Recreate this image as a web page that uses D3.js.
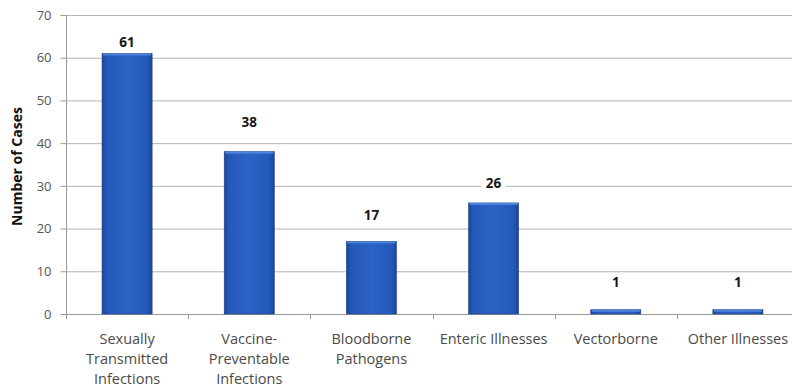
<!DOCTYPE html>
<html>
<head>
<meta charset="utf-8">
<script src="https://cdn.jsdelivr.net/npm/d3@7"></script>
<style>
  html, body { margin: 0; padding: 0; background: #fff; }
  svg { display: block; }
</style>
</head>
<body>
<svg id="chart" width="792" height="387"></svg>
<script>
// Cases by illness group
const categories = [
  ["Sexually", "Transmitted", "Infections"],
  ["Vaccine-", "Preventable", "Infections"],
  ["Bloodborne", "Pathogens"],
  ["Enteric Illnesses"],
  ["Vectorborne"],
  ["Other Illnesses"]
];
const values = [61, 38, 17, 26, 1, 1];
const yTicks = [0, 10, 20, 30, 40, 50, 60, 70];
const yTitle = "Number of Cases";

const svg = d3.select("#chart");
const plotLeft = 66, plotRight = 799, plotTop = 15, plotBottom = 314;
const font = "'Open Sans', 'Noto Sans', sans-serif";

const x = d3.scaleBand().domain(d3.range(values.length)).range([plotLeft, plotRight]).paddingInner(0.59).paddingOuter(0.295);
const y = d3.scaleLinear().domain([0, 70]).range([plotBottom, plotTop]);

// bar fill: darker edges, brighter centre
const defs = svg.append("defs");
const grad = defs.append("linearGradient").attr("id", "barFill").attr("x1", 0).attr("x2", 1).attr("y1", 0).attr("y2", 0);
[[0, "#1c4595"], [0.1, "#2459b8"], [0.5, "#2c63c6"], [0.9, "#2459b8"], [1, "#1c4595"]]
  .forEach(([o, c]) => grad.append("stop").attr("offset", o).attr("stop-color", c));

// gridlines
svg.append("g").selectAll("line").data(yTicks.filter(d => d > 0)).join("line")
  .attr("x1", plotLeft).attr("x2", plotRight)
  .attr("y1", d => y(d) + 0.5).attr("y2", d => y(d) + 0.5)
  .attr("stroke", "#b4b4b4").attr("stroke-width", 1);

// y axis
const yAxis = svg.append("g").attr("transform", `translate(${plotLeft + 0.5},0)`)
  .call(d3.axisLeft(y).tickValues(yTicks).tickSize(6).tickPadding(9));
yAxis.select(".domain").attr("stroke", "#9a9a9a").attr("d", `M0,${plotTop}V${plotBottom}`);
yAxis.selectAll(".tick line").attr("stroke", "#9a9a9a");
yAxis.selectAll("text").attr("font-family", font).attr("font-size", 13).attr("fill", "#555");

// x axis baseline and category ticks
svg.append("line").attr("x1", plotLeft).attr("x2", plotRight).attr("y1", plotBottom + 0.5).attr("y2", plotBottom + 0.5)
  .attr("stroke", "#9a9a9a");
const step = x.step();
svg.append("g").selectAll("line").data(d3.range(values.length + 1)).join("line")
  .attr("x1", i => Math.round(plotLeft + i * step) + 0.5).attr("x2", i => Math.round(plotLeft + i * step) + 0.5)
  .attr("y1", plotBottom).attr("y2", plotBottom + 5)
  .attr("stroke", "#9a9a9a");

// bars
svg.append("g").selectAll("rect").data(values).join("rect")
  .attr("x", (d, i) => x(i)).attr("width", x.bandwidth())
  .attr("y", d => y(d)).attr("height", d => y(0) - y(d))
  .attr("fill", "url(#barFill)")
  .attr("stroke", "#1d4288").attr("stroke-width", 0.6);
// top highlight
svg.append("g").selectAll("rect").data(values).join("rect")
  .attr("x", (d, i) => x(i) + 1).attr("width", x.bandwidth() - 2)
  .attr("y", d => y(d)).attr("height", 2)
  .attr("fill", "#4f84dc");

// value labels, each lifted above its bar by its own gap, on a white box
const labelLift = [6, 25, 21, 15, 23, 23];
const labels = svg.append("g").selectAll("g").data(values).join("g")
  .attr("transform", (d, i) => `translate(${x(i) + x.bandwidth() / 2},${y(d) - labelLift[i]})`);
labels.append("rect")
  .attr("x", -12).attr("y", -13).attr("width", 24).attr("height", 15)
  .attr("fill", "#fff");
labels.append("text")
  .attr("text-anchor", "middle")
  .attr("font-family", font).attr("font-size", 13.5).attr("font-weight", "bold")
  .attr("fill", "#151515")
  .text(d => d);

// category labels
const cat = svg.append("g").selectAll("text").data(categories).join("text")
  .attr("text-anchor", "middle")
  .attr("font-family", font).attr("font-size", 14.5).attr("fill", "#4a4a4a")
  .attr("transform", (d, i) => `translate(${x(i) + x.bandwidth() / 2},${plotBottom + 30})`);
cat.selectAll("tspan").data(d => d).join("tspan")
  .attr("x", 0).attr("dy", (d, j) => j === 0 ? 0 : 20)
  .text(d => d);

// y axis title
svg.append("text")
  .attr("transform", `translate(22,${(plotTop + plotBottom) / 2 + 2}) rotate(-90)`)
  .attr("text-anchor", "middle")
  .attr("font-family", font).attr("font-size", 14).attr("font-weight", "bold")
  .attr("fill", "#111")
  .text(yTitle);
</script>
</body>
</html>
